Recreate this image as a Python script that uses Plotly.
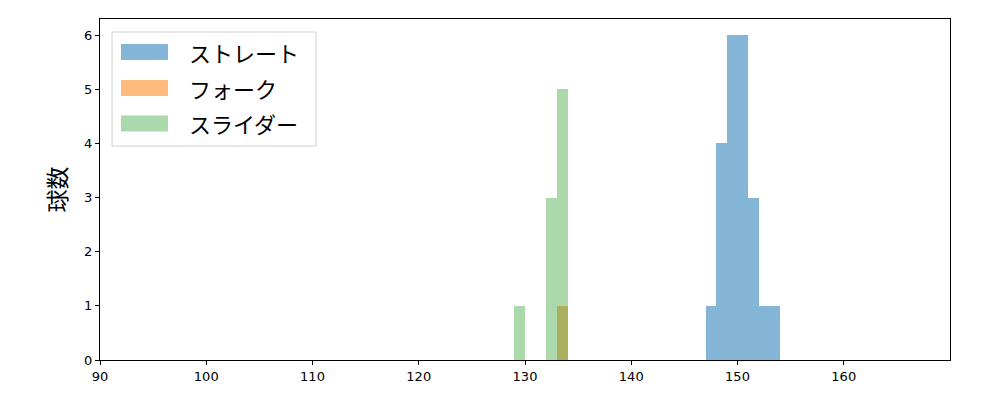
import plotly.graph_objects as go

# 球種ごとのヒストグラム(ビン幅 1 km/h)
straight_bins = [147.5, 148.5, 149.5, 150.5, 151.5, 152.5, 153.5]
straight_counts = [1, 4, 6, 6, 3, 1, 1]

fork_bins = [133.5]
fork_counts = [1]

slider_bins = [129.5, 132.5, 133.5]
slider_counts = [1, 3, 5]

series_names = ["ストレート", "フォーク", "スライダー"]
series_colors = ["rgba(31,119,180,0.55)", "rgba(255,127,14,0.54)", "rgba(44,160,44,0.4)"]

x_ticks = [90, 100, 110, 120, 130, 140, 150, 160]
y_ticks = [0, 1, 2, 3, 4, 5, 6]

# ページの body 余白 (8px) を差し引いた配置
OFF = 8
W, H = 1000, 400
L, T = 100 - OFF, 19 - OFF
PW, PH = 850, 341
R = W - L - PW
B = H - T - PH


def px_x(p):
    return (p - OFF - L) / PW


def px_y(p):
    return (T + PH - (p - OFF)) / PH


fig = go.Figure()
for name, xs, ys, color in zip(
    series_names,
    [straight_bins, fork_bins, slider_bins],
    [straight_counts, fork_counts, slider_counts],
    series_colors,
):
    fig.add_trace(go.Bar(
        x=xs,
        y=ys,
        width=1,
        name=name,
        marker=dict(color=color, line=dict(width=0)),
        showlegend=False,
    ))

# 凡例(matplotlib風)
shapes = [dict(
    type="rect", xref="paper", yref="paper",
    x0=px_x(112), x1=px_x(316), y0=px_y(146), y1=px_y(32),
    line=dict(color="#d0d0d0", width=1), fillcolor="rgba(255,255,255,0.8)",
)]
annotations = []
row_y = [52, 88, 123.5]
for name, color, ry in zip(series_names, series_colors, row_y):
    shapes.append(dict(
        type="rect", xref="paper", yref="paper",
        x0=px_x(121), x1=px_x(168), y0=px_y(ry + 8), y1=px_y(ry - 8),
        line=dict(width=0), fillcolor=color,
    ))
    annotations.append(dict(
        x=px_x(187), y=px_y(ry), xref="paper", yref="paper",
        text=name, showarrow=False, xanchor="left", yanchor="middle",
        font=dict(size=22, color="#000000", family="Noto Sans CJK JP"),
    ))

axis_common = dict(
    showline=True, linecolor="#000000", linewidth=1.2, mirror=True,
    ticks="outside", ticklen=4, tickcolor="#000000",
    showgrid=False, zeroline=False,
    tickfont=dict(size=13, color="#000000", family="DejaVu Sans"),
)

fig.update_layout(
    width=W, height=H,
    margin=dict(l=L, r=R, t=T, b=B),
    paper_bgcolor="white",
    plot_bgcolor="white",
    barmode="overlay",
    bargap=0,
    shapes=shapes,
    annotations=annotations,
    xaxis=dict(range=[90, 170], tickvals=x_ticks, **axis_common),
    yaxis=dict(
        range=[0, 6.3], tickvals=y_ticks,
        title=dict(text="球数", font=dict(size=23, family="Noto Sans CJK JP", color="#000000"), standoff=10),
        **axis_common,
    ),
)

fig.write_html("out.html")
